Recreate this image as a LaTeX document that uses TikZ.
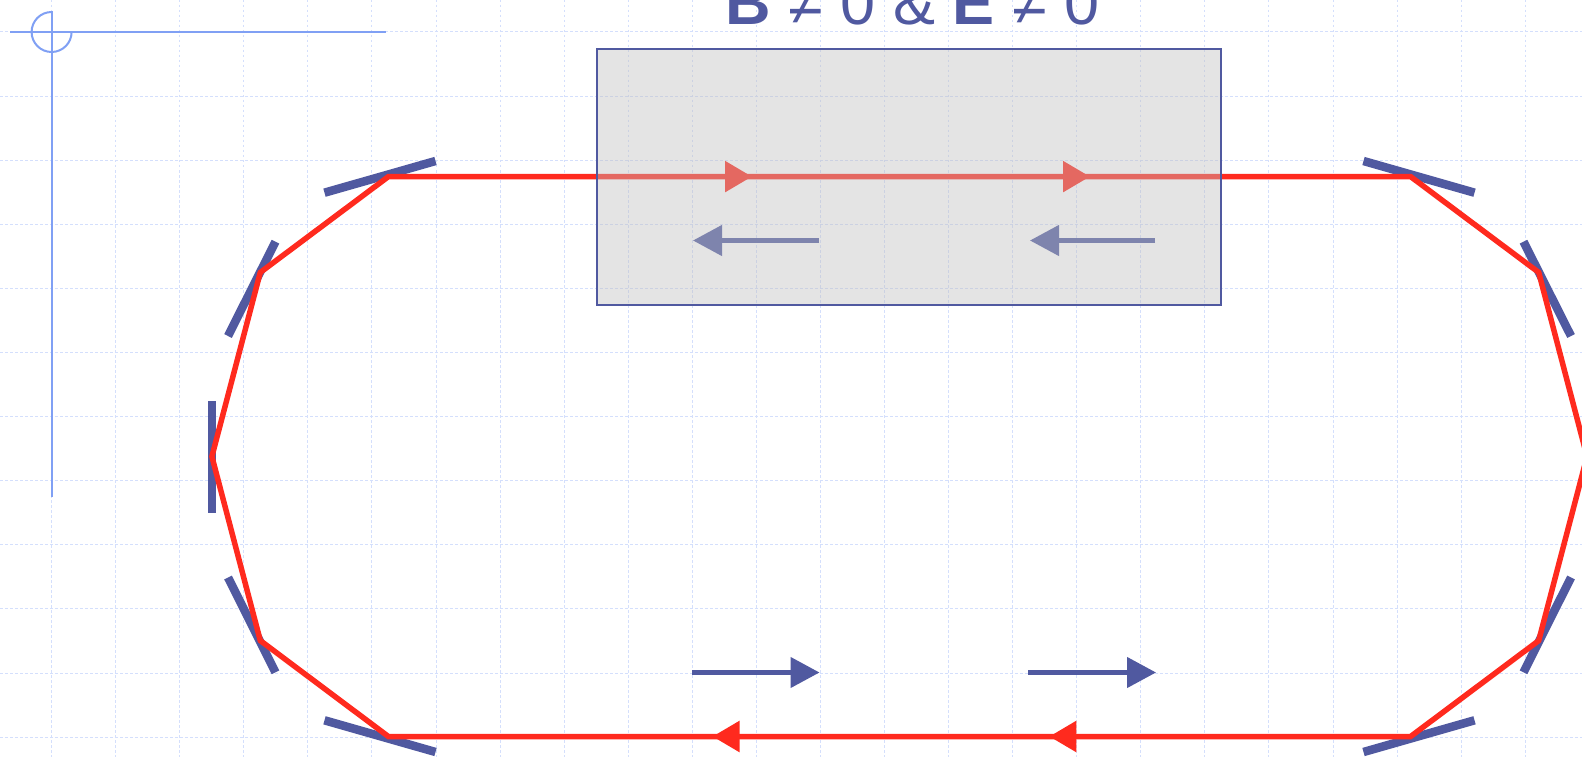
\documentclass[tikz,border=0pt]{standalone}
\usepackage{fontspec}
\setmainfont{Liberation Sans}
\usetikzlibrary{arrows.meta}
\definecolor{beam}{RGB}{255,42,30}
\definecolor{slate}{RGB}{80,89,160}
\definecolor{axisblue}{RGB}{128,160,244}
\definecolor{gridblue}{RGB}{212,223,252}
\definecolor{shade}{RGB}{192,192,192}
\begin{document}
\begin{tikzpicture}[x=1pt,y=-1pt,
  gridline/.style={gridblue, line width=1pt, dash pattern=on 2.5pt off 2.5pt},
  axisline/.style={axisblue, line width=2pt},
  orbit/.style={beam, line width=5.5pt},
  magnet/.style={slate, line width=8.5pt},
  field/.style={slate, line width=4.5pt, -{Triangle[length=29pt,width=30pt]}},
  flow/.style={beam, line width=5.5pt, -{Triangle[length=27pt,width=30pt]}},
  chamberbox/.style={draw=slate, line width=2pt, fill=shade, fill opacity=0.42, draw opacity=1, inner sep=0pt},
  heading/.style={text=slate, inner sep=0pt, font=\fontsize{63}{70}\selectfont},
]
\useasboundingbox (0,0) rectangle (1582,757);
\fill[white] (0,0) rectangle (1582,757);
\clip (0,0) rectangle (1582,757);

% background grid
\foreach \k in {0,...,23} \draw[gridline] ({51.6+64.07*\k},0) -- ({51.6+64.07*\k},757);
\foreach \k in {0,...,11} \draw[gridline] (0,{32+64.1*\k}) -- (1582,{32+64.1*\k});

% reference axes
\coordinate (o) at (51.6,32);
\coordinate (xl) at (10,32);
\coordinate (xr) at (386,32);
\coordinate (yt) at (51.6,11);
\coordinate (yb) at (51.6,497);
\draw[axisline] (xl) -- (xr);
\draw[axisline] (yt) -- (yb);
\draw[axisline] (51.6,12) arc[start angle=90, end angle=360, radius=20pt];

% bending magnets
\draw[magnet] (324.5,192.7) -- (435.5,161);
\draw[magnet] (228,336) -- (275.5,241.7);
\draw[magnet] (211.8,401) -- (211.8,512.7);
\draw[magnet] (228,577.5) -- (275.5,672.3);
\draw[magnet] (324.5,720.3) -- (435.5,752);
\draw[magnet] (1474.5,192.7) -- (1363.5,161);
\draw[magnet] (1571,336) -- (1523.5,241.7);
\draw[magnet] (1571,577.5) -- (1523.5,672.3);
\draw[magnet] (1474.5,720.3) -- (1363.5,752);

% closed orbit
\coordinate (A) at (388.4,176.6);
\coordinate (B) at (260.3,272.4);
\coordinate (C) at (211.9,456.5);
\coordinate (D) at (260.3,640.6);
\coordinate (E) at (388.4,736.5);
\coordinate (F) at (1410.6,736.5);
\coordinate (G) at (1538.7,640.6);
\coordinate (H) at (1587,456.5);
\coordinate (I) at (1538.7,272.4);
\coordinate (J) at (1410.6,176.6);
\draw[orbit] (A) -- (B) -- (C) -- (D) -- (E) -- (F) -- (G) -- (H) -- (I) -- (J) -- cycle;

% direction of motion
\coordinate (t1s) at (700,176.6);   \coordinate (t1e) at (752,176.6);
\coordinate (t2s) at (1040,176.6);  \coordinate (t2e) at (1090,176.6);
\coordinate (b1s) at (760,736.5);   \coordinate (b1e) at (712.5,736.5);
\coordinate (b2s) at (1100,736.5);  \coordinate (b2e) at (1049.3,736.5);
\draw[flow] (t1s) -- (t1e);
\draw[flow] (t2s) -- (t2e);
\draw[flow] (b1s) -- (b1e);
\draw[flow] (b2s) -- (b2e);

% field vectors
\coordinate (f1s) at (819.2,240.5);  \coordinate (f1e) at (693,240.5);
\coordinate (f2s) at (1155.2,240.5); \coordinate (f2e) at (1030,240.5);
\coordinate (g1s) at (692,672.5);    \coordinate (g1e) at (819.5,672.5);
\coordinate (g2s) at (1028,672.5);   \coordinate (g2e) at (1156,672.5);
\draw[field] (f1s) -- (f1e);
\draw[field] (f2s) -- (f2e);
\draw[field] (g1s) -- (g1e);
\draw[field] (g2s) -- (g2e);

% field region
\node[chamberbox, minimum width=624.5pt, minimum height=256pt] (chamber) at (908.8,177) {};

% label
\node[heading, anchor=base west] (title) at (725.5,25) {\textbf{B} ≠ 0 \& \textbf{E} ≠ 0};
\end{tikzpicture}
\end{document}
